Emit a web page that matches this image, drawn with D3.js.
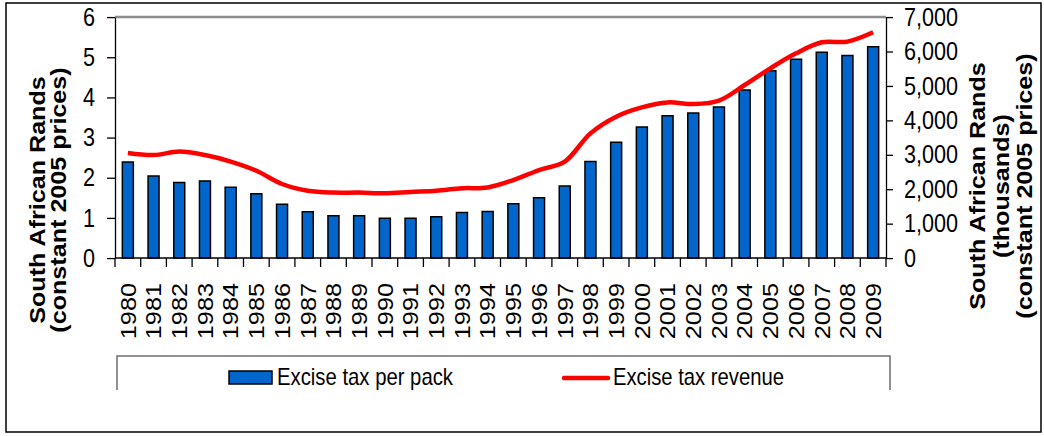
<!DOCTYPE html>
<html lang="en">
<head>
<meta charset="utf-8">
<title>Excise tax per pack and revenue</title>
<script src="https://d3js.org/d3.v7.min.js"></script>
<style>
  body { margin: 0; background: #fff; }
  svg { display: block; font-family: "Liberation Sans", Arial, sans-serif; }
  .ns { vector-effect: non-scaling-stroke; }
</style>
</head>
<body>
<div id="chart"></div>
<script>
// data
const years = ["1980","1981","1982","1983","1984","1985","1986","1987","1988","1989",
               "1990","1991","1992","1993","1994","1995","1996","1997","1998","1999",
               "2000","2001","2002","2003","2004","2005","2006","2007","2008","2009"]
const taxPerPack = [2.39, 2.04, 1.88, 1.92, 1.76, 1.60, 1.34, 1.15, 1.05, 1.05,
                    0.99, 0.99, 1.03, 1.13, 1.16, 1.35, 1.50, 1.79, 2.40, 2.88,
                    3.26, 3.54, 3.61, 3.76, 4.18, 4.66, 4.95, 5.12, 5.04, 5.26]
const taxRevenue = [3050, 2990, 3090, 2990, 2800, 2535, 2150, 1955, 1900, 1900,
                    1880, 1920, 1955, 2025, 2050, 2265, 2555, 2800, 3620, 4105,
                    4375, 4520, 4470, 4570, 5025, 5510, 5945, 6265, 6285, 6555]
const leftTicks = [0, 1, 2, 3, 4, 5, 6]
const rightTicks = [0, 1000, 2000, 3000, 4000, 5000, 6000, 7000]
const seriesNames = ["Excise tax per pack", "Excise tax revenue"]

const width = 1044
const height = 436
const k = 1.17   // the original picture is stretched vertically

const plot = { left: 115, right: 886, top: 17 / k, bottom: 258 / k }

const svg = d3.select("#chart").append("svg")
    .attr("width", width)
    .attr("height", height)

svg.append("rect").attr("width", width).attr("height", height).attr("fill", "#fff")

const g = svg.append("g").attr("transform", `scale(1,${k})`)

// outer border
g.append("rect")
    .attr("class", "ns")
    .attr("x", 6).attr("y", 3 / k)
    .attr("width", 1035).attr("height", (432 - 3) / k)
    .attr("fill", "none")
    .attr("stroke", "#000")
    .attr("stroke-width", 1.5)

const pin = 0.572
const x = d3.scaleBand()
    .domain(years)
    .range([plot.left, plot.right])
    .paddingInner(pin)
    .paddingOuter(pin / 2)

const yL = d3.scaleLinear().domain([0, 6]).range([plot.bottom, plot.top])
const yR = d3.scaleLinear().domain([0, 7000]).range([plot.bottom, plot.top])

// top border of plot area
g.append("line")
    .attr("class", "ns")
    .attr("x1", plot.left).attr("x2", plot.right)
    .attr("y1", plot.top).attr("y2", plot.top)
    .attr("stroke", "#8c8c8c")
    .attr("stroke-width", 2.5)

// bars
g.selectAll(".bar")
    .data(years)
    .enter()
    .append("rect")
    .attr("class", "bar ns")
    .attr("x", d => x(d))
    .attr("width", x.bandwidth())
    .attr("y", (d, i) => yL(taxPerPack[i]))
    .attr("height", (d, i) => plot.bottom - yL(taxPerPack[i]))
    .attr("fill", "#0066cc")
    .attr("stroke", "#000")
    .attr("stroke-width", 1.5)

// revenue line
const line = d3.line()
    .x((d, i) => x(years[i]) + x.bandwidth() / 2)
    .y(d => yR(d))
    .curve(d3.curveCatmullRom)

g.append("path")
    .datum(taxRevenue)
    .attr("class", "ns")
    .attr("d", line)
    .attr("fill", "none")
    .attr("stroke", "#ff0000")
    .attr("stroke-width", 4.5)
    .attr("stroke-linejoin", "round")

// left axis
const leftAxis = g.append("g")
    .attr("transform", `translate(${plot.left},0)`)
    .call(d3.axisLeft(yL).tickValues(leftTicks).tickSize(8).tickSizeOuter(0).tickPadding(12)
        .tickFormat(d3.format("d")))
leftAxis.selectAll("line, path").attr("class", "ns").attr("stroke", "#000").attr("stroke-width", 1.3)
leftAxis.selectAll("text").attr("font-size", "21.6px").attr("fill", "#000").attr("font-family", "Liberation Sans, Arial, sans-serif")

// right axis
const rightAxis = g.append("g")
    .attr("transform", `translate(${plot.right},0)`)
    .call(d3.axisRight(yR).tickValues(rightTicks).tickSize(7).tickSizeOuter(0).tickPadding(11)
        .tickFormat(d3.format(",")))
rightAxis.selectAll("line, path").attr("class", "ns").attr("stroke", "#000").attr("stroke-width", 1.3)
rightAxis.selectAll("text").attr("font-size", "21.6px").attr("fill", "#000").attr("font-family", "Liberation Sans, Arial, sans-serif")

// bottom axis with ticks between categories
const gap = (x.step() - x.bandwidth()) / 2
g.append("line")
    .attr("class", "ns")
    .attr("x1", plot.left).attr("x2", plot.right)
    .attr("y1", plot.bottom).attr("y2", plot.bottom)
    .attr("stroke", "#000").attr("stroke-width", 1.3)
g.selectAll(".xtick")
    .data(years.concat(["end"]))
    .enter()
    .append("line")
    .attr("class", "xtick ns")
    .attr("x1", d => d === "end" ? plot.right : x(d) - gap)
    .attr("x2", d => d === "end" ? plot.right : x(d) - gap)
    .attr("y1", plot.bottom)
    .attr("y2", 267 / k)
    .attr("stroke", "#000").attr("stroke-width", 1.3)

g.selectAll(".xlabel")
    .data(years)
    .enter()
    .append("text")
    .attr("class", "xlabel")
    .attr("transform", d => `translate(${x(d) + x.bandwidth() / 2},${283 / k}) rotate(-90)`)
    .attr("dy", "0.36em")
    .attr("text-anchor", "end")
    .attr("font-size", "21.6px")
    .text(d => d)

// axis titles
const leftTitle = ["South African Rands", "(constant 2005 prices)"]
g.selectAll(".ltitle")
    .data(leftTitle)
    .enter()
    .append("text")
    .attr("transform", (d, i) => `translate(${45 + i * 21},${200 / k}) rotate(-90)`)
    .attr("text-anchor", "middle")
    .attr("font-weight", "bold")
    .attr("font-size", "21.5px")
    .text(d => d)

const rightTitle = ["South African Rands", "(thousands)", "(constant 2005 prices)"]
g.selectAll(".rtitle")
    .data(rightTitle)
    .enter()
    .append("text")
    .attr("transform", (d, i) => `translate(${985 + i * 23.5},${186 / k}) rotate(-90)`)
    .attr("text-anchor", "middle")
    .attr("font-weight", "bold")
    .attr("font-size", "21.5px")
    .text(d => d)

// legend box (its lower edge is cut off in the original)
const legend = g.append("g")
legend.append("path")
    .attr("class", "ns")
    .attr("d", `M117,${390 / k}V${356 / k}H890V${390 / k}`)
    .attr("fill", "none")
    .attr("stroke", "#6e6e6e")
    .attr("stroke-width", 1.5)

legend.append("rect")
    .attr("class", "ns")
    .attr("x", 229).attr("y", 371 / k)
    .attr("width", 43).attr("height", 13 / k)
    .attr("fill", "#0066cc")
    .attr("stroke", "#000")
    .attr("stroke-width", 1.5)
legend.append("text")
    .attr("x", 277).attr("y", 385 / k)
    .attr("font-size", "20px")
    .attr("textLength", 176)
    .attr("lengthAdjust", "spacingAndGlyphs")
    .text(seriesNames[0])

legend.append("line")
    .attr("class", "ns")
    .attr("x1", 564).attr("x2", 608)
    .attr("y1", 378 / k).attr("y2", 378 / k)
    .attr("stroke", "#ff0000")
    .attr("stroke-width", 4.5)
    .attr("stroke-linecap", "round")
legend.append("text")
    .attr("x", 613).attr("y", 385 / k)
    .attr("font-size", "20px")
    .attr("textLength", 171)
    .attr("lengthAdjust", "spacingAndGlyphs")
    .text(seriesNames[1])
</script>
</body>
</html>
